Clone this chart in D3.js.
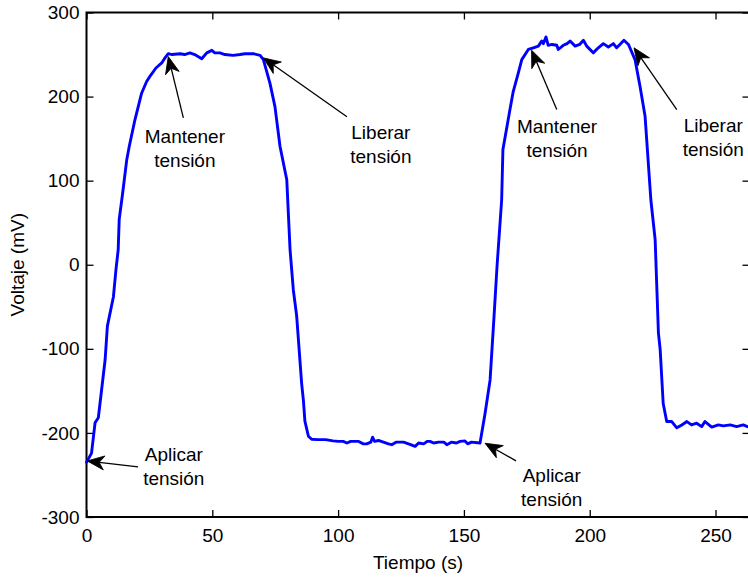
<!DOCTYPE html>
<html>
<head>
<meta charset="utf-8">
<script src="https://cdn.jsdelivr.net/npm/d3@7"></script>
<style>
  body { margin: 0; background: #fff; }
  text { font-family: "Liberation Sans", Arial, Helvetica, sans-serif; fill: #000; }
</style>
</head>
<body>
<svg id="chart" width="748" height="578"></svg>
<script>
// Measured signal: time (s) and voltage (mV)
const timeS = [
  0, 2, 3.4, 4.7, 7.4, 8.3, 10.7, 11.7, 12.6, 13, 14.4, 16, 17, 19.3, 21.9, 23.9, 25.2, 27.6, 29.9, 31.2,
  32.5, 34, 37.2, 39, 41.1, 43, 45.8, 47.8, 49.8, 51, 53, 55, 58.3, 61, 63, 66.3, 69, 70.3,
  72.9, 74.9, 76.9, 79.6, 80.9, 82.2, 83.5, 85.5, 86.2, 86.8, 88.2, 89.5,
  92, 95, 98, 100, 102, 103.5, 105, 108, 110, 111.4, 113, 113.7, 114.5, 116, 118, 120, 121.3, 123,
  126, 128, 130.6, 132, 134, 135.5, 136.5, 138, 140, 142, 143.2, 145, 147, 148.5, 150.4, 151.5, 153, 156.4,
  158.4, 160.4, 162, 163.2, 165, 165.5, 168.3, 169.6, 171.6, 173, 175.6, 177.6, 179.6, 180.9, 181.6,
  182.6, 183.5, 185, 186.9, 187.5, 189.5, 191, 192.2, 194.2, 196, 197.5, 198.8, 201.4, 203.4, 205.4,
  207.4, 209.4, 210.7, 212, 213.6, 215.4, 218, 220, 222, 224.3, 226, 227.3, 228, 229.2, 230.6,
  232.6, 234.6, 236.6, 238.6, 240.5, 242.5, 244.5, 245.8, 248.5, 251.1, 253.1, 255.8, 258.4, 261, 263
];
const voltageMV = [
  -235, -224, -188, -182, -113, -73, -38, -6, 18, 54, 86, 125, 141, 173, 204, 218, 224, 234, 240, 246,
  251, 250, 251, 250, 252, 250, 245, 252, 255, 252, 252, 250, 249, 250, 251, 251, 249, 244,
  216, 188, 141, 101, 18, -30, -60, -141, -161, -186, -204, -207.5,
  -208, -208, -209.5, -210, -210, -212, -210, -210, -213, -213, -211, -205, -210, -209, -211, -213, -214, -211,
  -211, -213, -216, -212, -213, -210, -210, -212, -211, -211, -214, -211, -212, -210, -209.5, -213, -211, -212,
  -177, -137, -60, 0, 77, 137, 184.5, 206, 228, 244, 256, 258, 260, 266, 263,
  271, 261, 262, 261, 256, 261, 263, 266, 260, 262, 267, 260, 252, 258, 263,
  259, 263, 258, 262, 267, 262, 244, 212, 176.5, 77, 30, -81, -101, -165, -186.5,
  -186.5, -194, -190.5, -186.5, -190.5, -188.5, -192.5, -186.5, -193, -190.5, -191.7, -190.5, -192.5, -190.5, -193
];

const xTicks = [0, 50, 100, 150, 200, 250];
const yTicks = [-300, -200, -100, 0, 100, 200, 300];
const xTitle = "Tiempo (s)";
const yTitle = "Voltaje (mV)";

// Annotations (data units): label lines, label anchor, arrow tip, arrow tail
const noteLines = [
  ["Aplicar", "tensión"], ["Mantener", "tensión"], ["Liberar", "tensión"],
  ["Aplicar", "tensión"], ["Mantener", "tensión"], ["Liberar", "tensión"]
];
const noteTextAt = [[34.7, -233.9], [39.1, 144.9], [117, 150], [184.9, -258], [187, 156.8], [249.1, 157.5]];
const arrowTip   = [[0.3, -233.3], [32.5, 247.6], [70.3, 246], [158.4, -212.3], [176.9, 255.1], [217.6, 258]];
const arrowTail  = [[20.5, -240.5], [38.5, 174.6], [103.5, 176], [170.7, -233.3], [186.9, 184.5], [234.6, 184.5]];

const svg = d3.select("#chart");
const fontSize = 19;
const plot = { left: 86.5, right: 749.5, top: 12.5, bottom: 517 };

const x = d3.scaleLinear().domain([0, 263.5]).range([plot.left, plot.right]);
const y = d3.scaleLinear().domain([-300, 300]).range([plot.bottom, plot.top]);

const tickLen = 7;
const plainNumber = d => String(d);   // ASCII hyphen for negatives

function styleAxis(g) {
  g.select(".domain").remove();
  g.selectAll(".tick line").attr("stroke", "#000").attr("stroke-width", 1.3);
  g.selectAll("text").attr("font-size", fontSize).attr("font-family", null);
}

// Bottom axis with labels
svg.append("g")
  .attr("transform", `translate(0,${plot.bottom})`)
  .call(d3.axisBottom(x).tickValues(xTicks).tickFormat(plainNumber)
    .tickSizeInner(-tickLen).tickSizeOuter(0).tickPadding(12))
  .call(styleAxis);

// Top axis, marks only
svg.append("g")
  .attr("transform", `translate(0,${plot.top})`)
  .call(d3.axisTop(x).tickValues(xTicks).tickSizeInner(-tickLen).tickSizeOuter(0).tickFormat(""))
  .call(styleAxis);

// Left axis with labels
svg.append("g")
  .attr("transform", `translate(${plot.left},0)`)
  .call(d3.axisLeft(y).tickValues(yTicks).tickFormat(plainNumber)
    .tickSizeInner(-tickLen).tickSizeOuter(0).tickPadding(7))
  .call(styleAxis);

// Right axis, marks only
svg.append("g")
  .attr("transform", `translate(${plot.right},0)`)
  .call(d3.axisRight(y).tickValues(yTicks).tickSizeInner(-tickLen).tickSizeOuter(0).tickFormat(""))
  .call(styleAxis);

// Axes box
svg.append("rect")
  .attr("x", plot.left).attr("y", plot.top)
  .attr("width", plot.right - plot.left).attr("height", plot.bottom - plot.top)
  .attr("fill", "none").attr("stroke", "#000").attr("stroke-width", 2);

// Axis titles
svg.append("text")
  .attr("x", (plot.left + plot.right) / 2).attr("y", 569)
  .attr("text-anchor", "middle").attr("font-size", fontSize)
  .text(xTitle);

svg.append("text")
  .attr("transform", `translate(24,${y(0)}) rotate(-90)`)
  .attr("text-anchor", "middle").attr("font-size", fontSize)
  .text(yTitle);

// Signal trace
const series = timeS.map((t, i) => [t, voltageMV[i]]);
svg.append("path")
  .datum(series)
  .attr("fill", "none")
  .attr("stroke", "#0000ff")
  .attr("stroke-width", 2.9)
  .attr("stroke-linejoin", "round")
  .attr("stroke-linecap", "round")
  .attr("d", d3.line().x(d => x(d[0])).y(d => y(d[1])));

// Annotation arrows
const headLen = 17, headHalf = 7, notch = 12;
const notes = svg.append("g");
noteLines.forEach((lines, i) => {
  const tx = x(arrowTip[i][0]), ty = y(arrowTip[i][1]);
  const sx = x(arrowTail[i][0]), sy = y(arrowTail[i][1]);
  const ang = Math.atan2(ty - sy, tx - sx);
  const len = Math.hypot(tx - sx, ty - sy);
  const a = notes.append("g")
    .attr("transform", `translate(${tx},${ty}) rotate(${ang * 180 / Math.PI})`);
  a.append("line")
    .attr("x1", -len).attr("y1", 0).attr("x2", -notch).attr("y2", 0)
    .attr("stroke", "#000").attr("stroke-width", 1.3);
  a.append("path")
    .attr("d", `M0,0 L${-headLen},${-headHalf} L${-notch},0 L${-headLen},${headHalf} Z`)
    .attr("fill", "#000").attr("stroke", "#000").attr("stroke-width", 0.8)
    .attr("stroke-linejoin", "miter");

  const lx = x(noteTextAt[i][0]), ly = y(noteTextAt[i][1]);
  const t = notes.append("text")
    .attr("text-anchor", "middle").attr("font-size", fontSize);
  lines.forEach((s, k) => {
    t.append("tspan").attr("x", lx).attr("y", ly + k * 24).text(s);
  });
});
</script>
</body>
</html>
